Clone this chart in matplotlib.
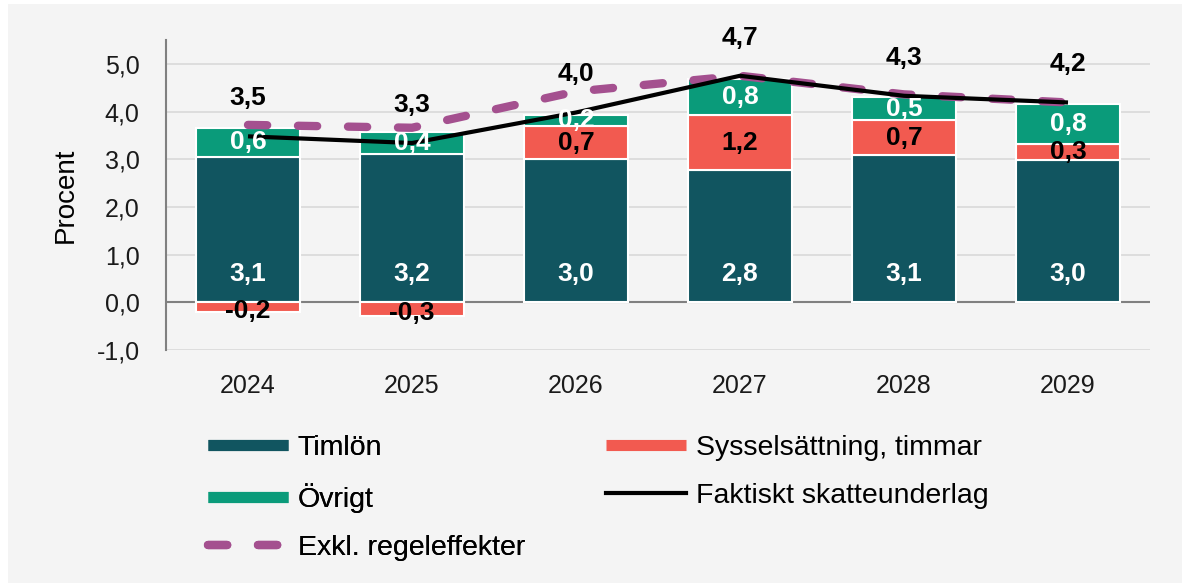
import matplotlib
matplotlib.use("Agg")
import matplotlib.pyplot as plt
from matplotlib.lines import Line2D
from matplotlib.patches import Rectangle
from matplotlib.ticker import FuncFormatter
import numpy as np

plt.rcParams['font.family'] = ['Liberation Sans', 'DejaVu Sans']

years = ['2024', '2025', '2026', '2027', '2028', '2029']
timlon = [3.05, 3.12, 3.0, 2.77, 3.09, 2.98]
timlon_labels = ['3,1', '3,2', '3,0', '2,8', '3,1', '3,0']
syss = [-0.21, -0.29, 0.70, 1.16, 0.73, 0.34]
syss_labels = ['-0,2', '-0,3', '0,7', '1,2', '0,7', '0,3']
ovrigt = [0.61, 0.46, 0.23, 0.75, 0.48, 0.83]
ovrigt_labels = ['0,6', '0,4', '0,2', '0,8', '0,5', '0,8']
faktiskt = [3.48, 3.34, 3.98, 4.75, 4.33, 4.19]
faktiskt_labels = ['3,5', '3,3', '4,0', '4,7', '4,3', '4,2']
exkl = [3.72, 3.66, 4.42, 4.75, 4.36, 4.19]

c_tim = '#115560'
c_syss = '#f25a50'
c_ovr = '#0a9b7a'
c_exkl = '#a4508f'
bg = '#f4f4f4'

W, H = 1182, 585
fig = plt.figure(figsize=(W/100, H/100), dpi=100, facecolor='white')
fig.patches.append(Rectangle((8/W, 2/H), 1 - 8/W, 1 - 6/H, transform=fig.transFigure,
                             facecolor=bg, edgecolor='none', zorder=-10))
ax = fig.add_axes([166/W, 1 - 350/H, (1150-166)/W, (350-40)/H])
ax.set_facecolor(bg)

x = np.arange(len(years))
bw = 0.64
tim = np.array(timlon); sy = np.array(syss); ov = np.array(ovrigt)

ax.bar(x, tim, bw, color=c_tim, edgecolor='white', linewidth=1.5, zorder=2)
sy_bottom = np.where(sy >= 0, tim, 0)
ax.bar(x, sy, bw, bottom=sy_bottom, color=c_syss, edgecolor='white', linewidth=1.5, zorder=2)
ov_bottom = tim + np.where(sy >= 0, sy, 0)
ax.bar(x, ov, bw, bottom=ov_bottom, color=c_ovr, edgecolor='white', linewidth=1.5, zorder=2)

ax.plot(x, faktiskt, color='black', lw=3, zorder=4, solid_capstyle='butt')
ax.plot(x, exkl, color=c_exkl, lw=6, zorder=3, dashes=(2.3, 3.7), dash_capstyle='round')

fmt = lambda v: f'{v:.1f}'.replace('.', ',')
lfs = 19
for i in x:
    ax.text(i, 0.6, timlon_labels[i], color='white', ha='center', va='center',
            fontsize=lfs, fontweight='bold', zorder=5)
    ax.text(i, sy_bottom[i] + sy[i] / 2 - (0.08 if sy[i] < 0 else 0), syss_labels[i],
            color='black', ha='center', va='center', fontsize=lfs, fontweight='bold', zorder=5)
    ax.text(i, ov_bottom[i] + ov[i] / 2, ovrigt_labels[i], color='white', ha='center',
            va='center', fontsize=lfs, fontweight='bold', zorder=5)
    ax.text(i, faktiskt[i] + 0.8, faktiskt_labels[i], color='black', ha='center',
            va='center', fontsize=lfs, fontweight='bold', zorder=5)

ax.set_xlim(-0.5, len(years) - 0.5)
ax.set_ylim(-1, 5.5)
ax.set_yticks(np.arange(-1, 6, 1))
ax.yaxis.set_major_formatter(FuncFormatter(lambda v, p: fmt(v)))
ax.set_xticks(x)
ax.set_xticklabels(years)
ax.tick_params(axis='both', length=0, labelsize=18, colors='#1a1a1a')
ax.tick_params(axis='y', pad=19)
ax.tick_params(axis='x', pad=17)
ax.grid(axis='y', color='#d9d9d9', lw=1.2, zorder=0)
ax.set_axisbelow(True)
ax.axhline(0, color='#808080', lw=1.5, zorder=1)
for s in ['top', 'right', 'bottom']:
    ax.spines[s].set_visible(False)
ax.spines['left'].set_color('#808080')
ax.spines['left'].set_linewidth(1.5)
ax.set_ylabel('Procent', fontsize=20)
ax.yaxis.set_label_coords(-87/(1150-166), 0.5)

h_tim = Line2D([], [], color=c_tim, lw=8, solid_capstyle='butt')
h_ovr = Line2D([], [], color=c_ovr, lw=8, solid_capstyle='butt')
h_exkl = Line2D([], [], color=c_exkl, lw=6, dashes=(2.3, 3.7), dash_capstyle='round')
h_syss = Line2D([], [], color=c_syss, lw=8, solid_capstyle='butt')
h_fakt = Line2D([], [], color='black', lw=3)

leg_kw = dict(frameon=False, fontsize=20.5, loc='upper left', handlelength=2.8,
              handletextpad=0.35, labelspacing=0.78, borderaxespad=0, borderpad=0)
leg1 = fig.legend([h_tim, h_ovr, h_exkl], ['Timlön', 'Övrigt', 'Exkl. regeleffekter'],
                  bbox_to_anchor=(208/W, 1 - 435/H), **leg_kw)
fig.add_artist(leg1)
fig.legend([h_syss, h_fakt], ['Sysselsättning, timmar', 'Faktiskt skatteunderlag'],
           bbox_to_anchor=(606/W, 1 - 435/H), **leg_kw)

fig.savefig('out.png', dpi=100, facecolor=fig.get_facecolor())
